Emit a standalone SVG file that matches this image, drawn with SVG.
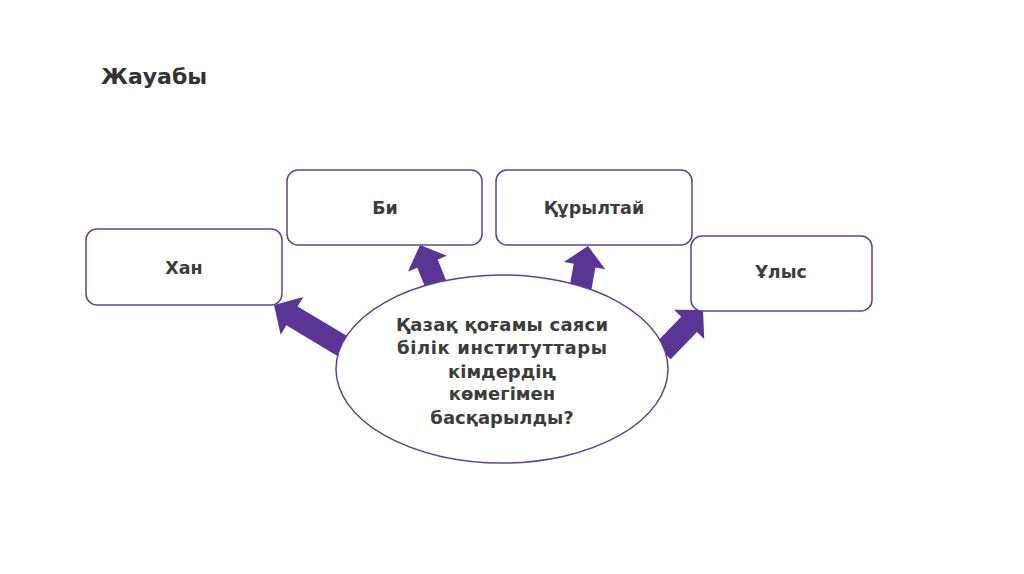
<svg xmlns="http://www.w3.org/2000/svg" width="1024" height="574" viewBox="0 0 1024 574">
<style>
.box{fill:#ffffff;stroke:#5d4196;stroke-width:1.5}
.lbl{font-family:"DejaVu Sans",Verdana,sans-serif;font-weight:bold;font-size:17.5px;fill:#3c3c3c;text-anchor:middle}
.q{font-family:"DejaVu Sans",Verdana,sans-serif;font-weight:bold;font-size:18px;fill:#3c3c3c;text-anchor:middle}
.arr{fill:#5a3596}
</style>
<rect width="1024" height="574" fill="#ffffff"/>
<text x="101" y="84" font-family="DejaVu Sans,Verdana,sans-serif" font-weight="bold" font-size="22" fill="#333333">Жауабы</text>
<g id="connectors" class="arr">
<polygon transform="translate(274,305) rotate(211)" points="0,0 -21,-22 -21,-11 -85,-11 -85,11 -21,11 -21,22"/>
<polygon transform="translate(420,245) rotate(248)" points="0,0 -20,-21 -20,-11 -48,-11 -48,11 -20,11 -20,21"/>
<polygon transform="translate(588,246) rotate(-80)" points="0,0 -20,-21 -20,-11 -52,-11 -52,11 -20,11 -20,21"/>
<polygon transform="translate(703,310) rotate(-46)" points="0,0 -20,-21 -20,-11 -58,-11 -58,11 -20,11 -20,21"/>
</g>
<g id="khan"><rect class="box" x="86" y="229" width="196" height="76" rx="11"/><text class="lbl" x="184" y="274">Хан</text></g>
<g id="bi"><rect class="box" x="287" y="170" width="195" height="75" rx="11"/><text class="lbl" x="385" y="214">Би</text></g>
<g id="kurultai"><rect class="box" x="496" y="170" width="196" height="75" rx="11"/><text class="lbl" x="594" y="214">Құрылтай</text></g>
<g id="ulys"><rect class="box" x="691" y="236" width="181" height="75" rx="11"/><text class="lbl" x="781" y="278">Ұлыс</text></g>
<g id="question">
<ellipse cx="502" cy="369" rx="166" ry="94" fill="#ffffff" stroke="#5d4196" stroke-width="1.5"/>
<text class="q" x="502" y="331" textLength="212" lengthAdjust="spacing">Қазақ қоғамы саяси</text>
<text class="q" x="502" y="354" textLength="210" lengthAdjust="spacing">білік институттары</text>
<text class="q" x="502" y="378">кімдердің</text>
<text class="q" x="502" y="400">көмегімен</text>
<text class="q" x="502" y="424">басқарылды?</text>
</g>
</svg>
